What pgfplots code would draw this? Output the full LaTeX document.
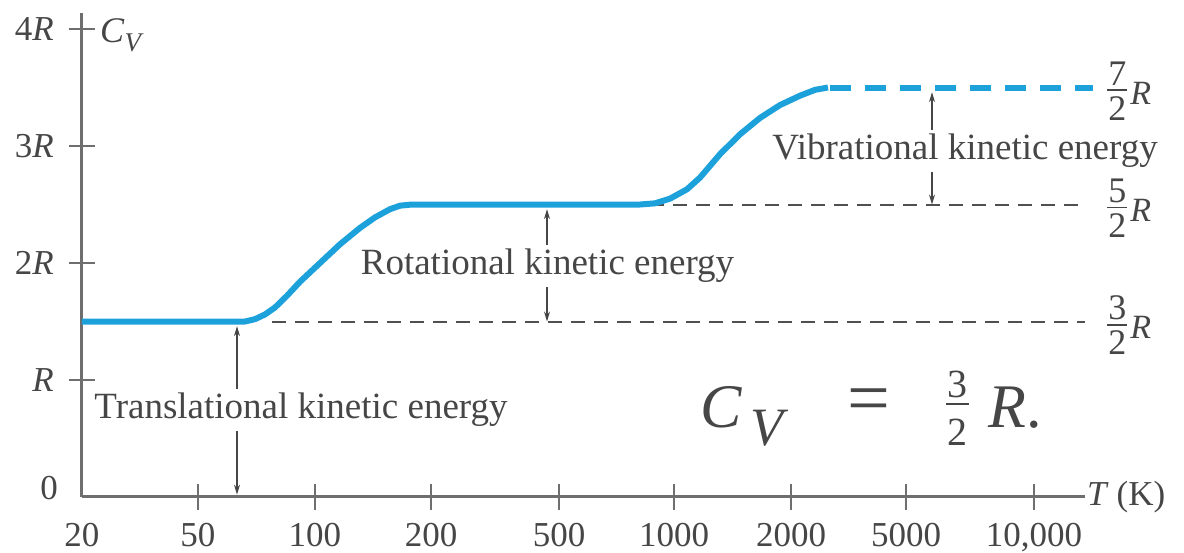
\RequirePackage{fix-cm}
\documentclass[border=0pt]{standalone}
\usepackage{fontspec}
\setmainfont{Liberation Serif}
\usepackage{pgfplots}
\pgfplotsset{compat=1.18}
\usetikzlibrary{arrows.meta}
\definecolor{cvblue}{RGB}{29,161,219}
\definecolor{txtgray}{RGB}{70,70,70}
\definecolor{axgray}{RGB}{110,110,110}
\definecolor{dashgray}{RGB}{80,80,80}
% stacked fraction: #1 numerator, #2 denominator, #3 gap above bar, #4 gap below bar
\newcommand{\sfr}[4]{$\vcenter{\offinterlineskip\halign{\hfil##\hfil\cr #1\cr\noalign{\kern#3}\rule{0.56em}{1.8pt}\cr\noalign{\kern#4}#2\cr}}$}
\begin{document}
\begin{tikzpicture}[font=\fontsize{35}{40}\selectfont, color=txtgray]
\useasboundingbox (-82pt,-56pt) rectangle (1102pt,497pt);
\begin{axis}[
 at={(0pt,0pt)}, anchor=south west,
 scale only axis, width=1003pt, height=484pt,
 xmin=0, xmax=1003, ymin=0, ymax=4.137,
 axis lines=left,
 axis line style={-, line width=3pt, axgray},
 tick style={line width=2pt, axgray},
 tick align=center, major tick length=26pt,
 xtick={116,233,349,477,592,709,824,952},
 xticklabels={50,100,200,500,1000,2000,5000,{10,000}},
 ytick={1,2,3,4},
 yticklabels={\textit{R},2\textit{R},3\textit{R},4\textit{R}},
 extra x ticks={0}, extra x tick labels={20},
 extra y ticks={0}, extra y tick labels={0},
 extra x tick style={major tick length=0pt, xticklabel style={yshift=-13pt}},
 extra y tick style={major tick length=0pt, yticklabel style={xshift=-9pt, yshift=9pt}},
 xticklabel style={inner sep=0pt, anchor=north, yshift=-13pt},
 yticklabel style={inner sep=0pt, anchor=east, xshift=-15pt},
 clip=false,
]
% reference levels
\addplot[dashgray, line width=2pt, dash pattern=on 14pt off 9pt] coordinates {(190,1.5) (1003,1.5)};
\addplot[dashgray, line width=2pt, dash pattern=on 14pt off 9pt] coordinates {(568,2.5) (1003,2.5)};
% C_V curve
\addplot[cvblue, line width=6pt, line join=round] coordinates {
 (0,1.5) (163,1.50) (173,1.52) (183,1.56) (193,1.62) (205,1.72) (218,1.84)
 (238,2.00) (258,2.16) (278,2.30) (293,2.39) (308,2.46) (318,2.49) (330,2.5)
 (558,2.50) (573,2.51) (588,2.55) (605,2.63) (618,2.73) (638,2.93) (658,3.10)
 (678,3.24) (698,3.35) (718,3.43) (733,3.48) (746,3.5)};
\addplot[cvblue, line width=6pt, dash pattern=on 21pt off 14pt] coordinates {(748,3.5) (1011,3.5)};
% arrows
\draw[txtgray, line width=1.3pt, {Stealth[length=10pt,width=6pt]}-{Stealth[length=10pt,width=6pt]}] (axis cs:155,1.46) -- (axis cs:155,0.02);
\draw[txtgray, line width=1.3pt, {Stealth[length=10pt,width=6pt]}-{Stealth[length=10pt,width=6pt]}] (axis cs:465,2.46) -- (axis cs:465,1.5);
\draw[txtgray, line width=1.3pt, {Stealth[length=10pt,width=6pt]}-{Stealth[length=10pt,width=6pt]}] (axis cs:850,3.46) -- (axis cs:850,2.5);
% labels
\node[fill=white, inner sep=4pt, font=\fontsize{37}{40}\selectfont] at (axis cs:219,0.744) {Translational kinetic energy};
\node[fill=white, inner sep=4pt, font=\fontsize{37}{40}\selectfont] at (axis cs:465.5,1.974) {Rotational kinetic energy};
\node[fill=white, inner sep=4pt, font=\fontsize{37}{40}\selectfont] at (axis cs:883,2.957) {Vibrational kinetic energy};
\node[anchor=west, inner sep=0pt, font=\fontsize{36}{40}\selectfont] at (axis cs:18,3.95) {\textit{C}\raisebox{-0.25em}{\fontsize{27}{30}\selectfont\textit{V}}};
\node[anchor=west, inner sep=0pt] at (axis cs:1005,0) {\textit{T}\hspace{8pt}(K)};
\node[anchor=west, inner sep=0pt, font=\fontsize{36}{38}\selectfont] at (axis cs:1025,3.47) {\sfr{7}{2}{4pt}{5pt}\hspace{3pt}\raisebox{-4pt}{\fontsize{34}{36}\selectfont\textit{R}}};
\node[anchor=west, inner sep=0pt, font=\fontsize{36}{38}\selectfont] at (axis cs:1025,2.47) {\sfr{5}{2}{4pt}{5pt}\hspace{3pt}\raisebox{-4pt}{\fontsize{34}{36}\selectfont\textit{R}}};
\node[anchor=west, inner sep=0pt, font=\fontsize{36}{38}\selectfont] at (axis cs:1025,1.47) {\sfr{3}{2}{4pt}{5pt}\hspace{3pt}\raisebox{-4pt}{\fontsize{34}{36}\selectfont\textit{R}}};
% formula
\node[anchor=base west, inner sep=0pt, font=\fontsize{62}{64}\selectfont] at (axis cs:618,0.59) {\textit{C}};
\node[anchor=base west, inner sep=0pt, font=\fontsize{54}{56}\selectfont] at (axis cs:668,0.444) {\textit{V}};
\node[anchor=center, inner sep=0pt, font=\fontsize{76}{78}\selectfont] at (axis cs:786.5,0.778) {=};
\node[anchor=center, inner sep=0pt, font=\fontsize{40}{42}\selectfont] at (axis cs:875.5,0.761) {\sfr{3}{2}{5pt}{14pt}};
\node[anchor=base west, inner sep=0pt, font=\fontsize{62}{64}\selectfont] at (axis cs:906,0.59) {\textit{R}.};
\end{axis}
\end{tikzpicture}
\end{document}
